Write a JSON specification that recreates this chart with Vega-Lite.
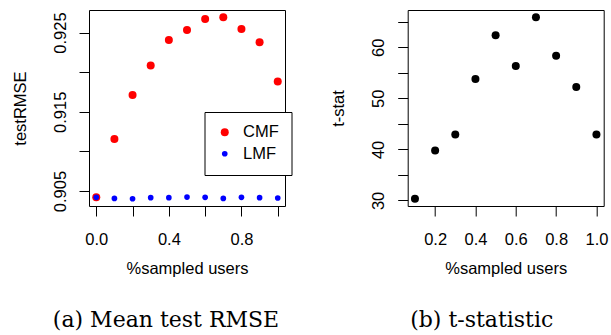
{
  "$schema": "https://vega.github.io/schema/vega-lite/v6.json",
  "background": "white",
  "padding": {"left": 12, "top": 9, "right": 0, "bottom": 0},
  "spacing": 42.7,
  "datasets": {
    "rmse": [
      {"sampled": 0.0, "method": "CMF", "rmse": 0.90420},
      {"sampled": 0.1, "method": "CMF", "rmse": 0.91157},
      {"sampled": 0.2, "method": "CMF", "rmse": 0.91713},
      {"sampled": 0.3, "method": "CMF", "rmse": 0.92083},
      {"sampled": 0.4, "method": "CMF", "rmse": 0.92407},
      {"sampled": 0.5, "method": "CMF", "rmse": 0.92533},
      {"sampled": 0.6, "method": "CMF", "rmse": 0.92672},
      {"sampled": 0.7, "method": "CMF", "rmse": 0.92693},
      {"sampled": 0.8, "method": "CMF", "rmse": 0.92546},
      {"sampled": 0.9, "method": "CMF", "rmse": 0.92378},
      {"sampled": 1.0, "method": "CMF", "rmse": 0.91881},
      {"sampled": 0.0, "method": "LMF", "rmse": 0.90420},
      {"sampled": 0.1, "method": "LMF", "rmse": 0.90407},
      {"sampled": 0.2, "method": "LMF", "rmse": 0.90403},
      {"sampled": 0.3, "method": "LMF", "rmse": 0.90416},
      {"sampled": 0.4, "method": "LMF", "rmse": 0.90416},
      {"sampled": 0.5, "method": "LMF", "rmse": 0.90424},
      {"sampled": 0.6, "method": "LMF", "rmse": 0.90420},
      {"sampled": 0.7, "method": "LMF", "rmse": 0.90407},
      {"sampled": 0.8, "method": "LMF", "rmse": 0.90420},
      {"sampled": 0.9, "method": "LMF", "rmse": 0.90416},
      {"sampled": 1.0, "method": "LMF", "rmse": 0.90412}
    ],
    "tstat": [
      {"sampled": 0.1, "tstat": 30.33},
      {"sampled": 0.2, "tstat": 39.76},
      {"sampled": 0.3, "tstat": 42.90},
      {"sampled": 0.4, "tstat": 53.77},
      {"sampled": 0.5, "tstat": 62.35},
      {"sampled": 0.6, "tstat": 56.33},
      {"sampled": 0.7, "tstat": 65.89},
      {"sampled": 0.8, "tstat": 58.36},
      {"sampled": 0.9, "tstat": 52.20},
      {"sampled": 1.0, "tstat": 42.90}
    ]
  },
  "hconcat": [
    {
      "width": 196,
      "height": 196,
      "data": {"name": "rmse"},
      "title": {"text": "(a) Mean test RMSE", "orient": "bottom", "anchor": "middle", "frame": "group", "dx": -21, "offset": 33, "font": "DejaVu Serif", "fontSize": 22, "fontWeight": "normal", "color": "black"},
      "mark": {"type": "circle", "opacity": 1},
      "encoding": {
        "x": {
          "field": "sampled", "type": "quantitative",
          "scale": {"domain": [-0.04, 1.04], "nice": false, "zero": false},
          "axis": {
            "title": "%sampled users",
            "values": [0, 0.2, 0.4, 0.6, 0.8, 1.0],
            "labelExpr": "(abs(datum.value) < 1e-6 || abs(datum.value - 0.4) < 1e-6 || abs(datum.value - 0.8) < 1e-6) ? format(datum.value, '.1f') : ''"
          }
        },
        "y": {
          "field": "rmse", "type": "quantitative",
          "scale": {"domain": [0.90311, 0.92785], "nice": false, "zero": false},
          "axis": {
            "title": "testRMSE",
            "titlePadding": 23.4,
            "values": [0.905, 0.910, 0.915, 0.920, 0.925],
            "labelExpr": "(abs(datum.value - 0.91) < 1e-6 || abs(datum.value - 0.92) < 1e-6) ? '' : format(datum.value, '.3f')"
          }
        },
        "color": {
          "field": "method", "type": "nominal",
          "scale": {"domain": ["CMF", "LMF"], "range": ["#ff0000", "#0000ff"]},
          "legend": {
            "title": null,
            "orient": "none",
            "legendX": 115.5,
            "legendY": 102,
            "strokeColor": "black",
            "fillColor": "white",
            "padding": 12,
            "rowPadding": 4.5,
            "symbolOffset": 0,
            "labelOffset": 10,
            "symbolType": "circle",
            "symbolStrokeWidth": 0,
            "labelFont": "Liberation Sans",
            "labelFontSize": 16.5,
            "labelColor": "black"
          }
        },
        "size": {
          "field": "method", "type": "nominal",
          "scale": {"domain": ["CMF", "LMF"], "range": [64, 32]}
        }
      }
    },
    {
      "width": 196,
      "height": 196,
      "data": {"name": "tstat"},
      "title": {"text": "(b) t-statistic", "orient": "bottom", "anchor": "middle", "frame": "group", "dx": -24, "offset": 33, "font": "DejaVu Serif", "fontSize": 22, "fontWeight": "normal", "color": "black"},
      "mark": {"type": "circle", "opacity": 1, "color": "black", "size": 64},
      "encoding": {
        "x": {
          "field": "sampled", "type": "quantitative",
          "scale": {"domain": [0.064, 1.036], "nice": false, "zero": false},
          "axis": {
            "title": "%sampled users",
            "values": [0.2, 0.4, 0.6, 0.8, 1.0],
            "format": ".1f"
          }
        },
        "y": {
          "field": "tstat", "type": "quantitative",
          "scale": {"domain": [28.91, 67.31], "nice": false, "zero": false},
          "axis": {
            "title": "t-stat",
            "titlePadding": 24.6,
            "values": [30, 35, 40, 45, 50, 55, 60, 65],
            "labelExpr": "datum.value % 10 == 0 ? format(datum.value, 'd') : ''"
          }
        }
      }
    }
  ],
  "config": {
    "view": {"stroke": "black", "strokeWidth": 1},
    "axis": {
      "domain": false,
      "grid": false,
      "ticks": true,
      "tickColor": "black",
      "tickSize": 10,
      "tickWidth": 1,
      "labelFont": "Liberation Sans",
      "labelFontSize": 16.5,
      "labelColor": "black",
      "labelOverlap": false,
      "labelBound": false,
      "labelFlush": false,
      "titleFont": "Liberation Sans",
      "titleFontSize": 16.5,
      "titleFontWeight": "normal",
      "titleColor": "black"
    },
    "axisX": {"labelAngle": 0, "labelPadding": 15.5, "titlePadding": 12.5},
    "axisY": {"labelAngle": 270, "labelAlign": "center", "labelBaseline": "bottom", "labelPadding": 11}
  }
}
